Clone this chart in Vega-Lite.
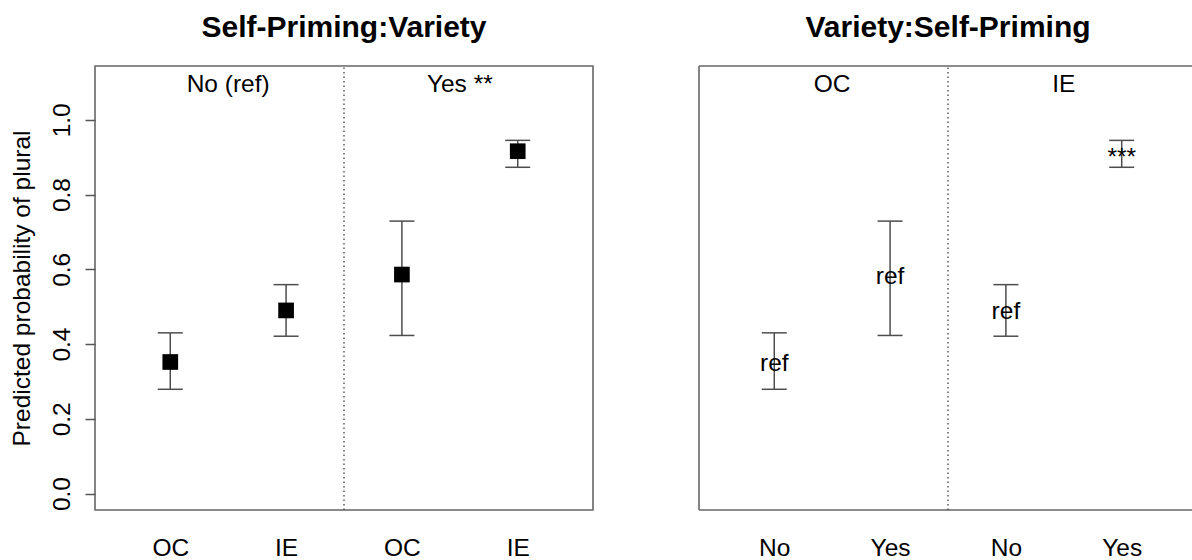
{
  "$schema": "https://vega.github.io/schema/vega-lite/v6.json",
  "background": "white",
  "padding": {"left": 8, "top": 12, "right": 0, "bottom": 0},
  "bounds": "flush",
  "spacing": 106,
  "datasets": {
    "estimates": [
      {"variety": "OC", "priming": "No", "fit": 0.352, "lo": 0.279, "hi": 0.430, "posA": 1, "posB": 1, "sig": "ref"},
      {"variety": "IE", "priming": "No", "fit": 0.490, "lo": 0.421, "hi": 0.559, "posA": 2, "posB": 3, "sig": "ref"},
      {"variety": "OC", "priming": "Yes", "fit": 0.586, "lo": 0.423, "hi": 0.729, "posA": 3, "posB": 2, "sig": "ref"},
      {"variety": "IE", "priming": "Yes", "fit": 0.916, "lo": 0.873, "hi": 0.945, "posA": 4, "posB": 4, "sig": "***"}
    ],
    "headersA": [{"slot": 1.5, "level": "No (ref)"}, {"slot": 3.5, "level": "Yes **"}],
    "headersB": [{"slot": 1.5, "level": "OC"}, {"slot": 3.5, "level": "IE"}],
    "dividers": [{"slot": 2.5}]
  },
  "config": {
    "font": "Liberation Sans",
    "view": {"stroke": null},
    "axis": {
      "grid": false,
      "domain": false,
      "labelFont": "Liberation Sans",
      "labelFontSize": 24.5,
      "labelColor": "#000000",
      "titleFont": "Liberation Sans",
      "titleFontSize": 24.5,
      "titleFontWeight": "normal",
      "titleColor": "#000000"
    },
    "title": {
      "font": "Liberation Sans",
      "fontSize": 30,
      "fontWeight": "bold",
      "color": "#000000",
      "anchor": "middle",
      "baseline": "alphabetic",
      "offset": 22,
      "frame": "group"
    },
    "text": {"font": "Liberation Sans", "fontSize": 24.5, "color": "#000000"}
  },
  "hconcat": [
    {
      "width": 498,
      "height": 444,
      "title": {"text": "Self-Priming:Variety"},
      "view": {"stroke": "#666666", "strokeWidth": 1.6},
      "layer": [
        {
          "data": {"name": "dividers"},
          "mark": {"type": "rule", "color": "#333333", "strokeWidth": 1.2, "strokeDash": [1.5, 3]},
          "encoding": {
            "x": {"field": "slot", "type": "quantitative", "scale": {"domain": [0.35, 4.65], "nice": false, "zero": false},
              "axis": {"values": [1, 2, 3, 4], "labelExpr": "['OC','IE','OC','IE'][datum.value-1]", "ticks": false, "tickSize": 0, "labelPadding": 45, "labelBaseline": "alphabetic", "labelFlush": false, "labelAngle": 0, "title": null}},
            "y": {"datum": -0.044, "type": "quantitative", "scale": {"domain": [-0.044, 1.144], "nice": false, "zero": false},
              "axis": {"values": [0, 0.2, 0.4, 0.6, 0.8, 1.0], "format": ".1f", "labelAngle": -90, "labelAlign": "center", "labelBaseline": "alphabetic", "labelPadding": 16, "tickSize": 10, "tickColor": "#555555", "tickWidth": 1.5, "labelFlush": false,
                "title": "Predicted probability of plural", "titleX": -66, "titleY": 222, "titleBaseline": "alphabetic", "titleAngle": -90, "titleAlign": "center"}},
            "y2": {"datum": 1.144}
          }
        },
        {
          "data": {"name": "estimates"},
          "mark": {"type": "rule", "color": "#4d4d4d", "strokeWidth": 1.5},
          "encoding": {
            "x": {"field": "posA", "type": "quantitative", "scale": {"domain": [0.35, 4.65], "nice": false, "zero": false}},
            "y": {"field": "lo", "type": "quantitative", "scale": {"domain": [-0.044, 1.144], "nice": false, "zero": false}},
            "y2": {"field": "hi"}
          }
        },
        {
          "data": {"name": "estimates"},
          "mark": {"type": "rule", "color": "#4d4d4d", "strokeWidth": 1.5, "xOffset": -12.5, "x2Offset": 12.5},
          "encoding": {
            "x": {"field": "posA", "type": "quantitative", "scale": {"domain": [0.35, 4.65], "nice": false, "zero": false}},
            "x2": {"field": "posA"},
            "y": {"field": "lo", "type": "quantitative", "scale": {"domain": [-0.044, 1.144], "nice": false, "zero": false}}
          }
        },
        {
          "data": {"name": "estimates"},
          "mark": {"type": "rule", "color": "#4d4d4d", "strokeWidth": 1.5, "xOffset": -12.5, "x2Offset": 12.5},
          "encoding": {
            "x": {"field": "posA", "type": "quantitative", "scale": {"domain": [0.35, 4.65], "nice": false, "zero": false}},
            "x2": {"field": "posA"},
            "y": {"field": "hi", "type": "quantitative", "scale": {"domain": [-0.044, 1.144], "nice": false, "zero": false}}
          }
        },
        {
          "data": {"name": "estimates"},
          "mark": {"type": "point", "shape": "square", "filled": true, "size": 246, "color": "#000000", "opacity": 1},
          "encoding": {
            "x": {"field": "posA", "type": "quantitative", "scale": {"domain": [0.35, 4.65], "nice": false, "zero": false}},
            "y": {"field": "fit", "type": "quantitative", "scale": {"domain": [-0.044, 1.144], "nice": false, "zero": false}}
          }
        },
        {
          "data": {"name": "headersA"},
          "mark": {"type": "text", "baseline": "alphabetic", "align": "center", "dy": 10},
          "encoding": {
            "x": {"field": "slot", "type": "quantitative", "scale": {"domain": [0.35, 4.65], "nice": false, "zero": false}},
            "y": {"datum": 1.1, "type": "quantitative", "scale": {"domain": [-0.044, 1.144], "nice": false, "zero": false}},
            "text": {"field": "level"}
          }
        }
      ]
    },
    {
      "width": 493,
      "height": 444,
      "title": {"text": "Variety:Self-Priming", "dx": 2.5},
      "layer": [
        {
          "data": {"values": [{}]},
          "mark": {"type": "rule", "color": "#666666", "strokeWidth": 1.6},
          "encoding": {
            "x": {"datum": 0.35, "type": "quantitative", "scale": {"domain": [0.35, 4.607], "nice": false, "zero": false},
              "axis": {"values": [1, 2, 3, 4], "labelExpr": "['No','Yes','No','Yes'][datum.value-1]", "ticks": false, "tickSize": 0, "labelPadding": 45, "labelBaseline": "alphabetic", "labelFlush": false, "labelAngle": 0, "title": null}},
            "x2": {"datum": 4.607},
            "y": {"datum": 1.144, "type": "quantitative", "scale": {"domain": [-0.044, 1.144], "nice": false, "zero": false}, "axis": null}
          }
        },
        {
          "data": {"values": [{}]},
          "mark": {"type": "rule", "color": "#666666", "strokeWidth": 1.6},
          "encoding": {
            "x": {"datum": 0.35, "type": "quantitative", "scale": {"domain": [0.35, 4.607], "nice": false, "zero": false}},
            "x2": {"datum": 4.607},
            "y": {"datum": -0.044, "type": "quantitative", "scale": {"domain": [-0.044, 1.144], "nice": false, "zero": false}}
          }
        },
        {
          "data": {"values": [{}]},
          "mark": {"type": "rule", "color": "#666666", "strokeWidth": 1.6},
          "encoding": {
            "x": {"datum": 0.35, "type": "quantitative", "scale": {"domain": [0.35, 4.607], "nice": false, "zero": false}},
            "y": {"datum": -0.044, "type": "quantitative", "scale": {"domain": [-0.044, 1.144], "nice": false, "zero": false}},
            "y2": {"datum": 1.144}
          }
        },
        {
          "data": {"name": "dividers"},
          "mark": {"type": "rule", "color": "#333333", "strokeWidth": 1.2, "strokeDash": [1.5, 3]},
          "encoding": {
            "x": {"field": "slot", "type": "quantitative", "scale": {"domain": [0.35, 4.607], "nice": false, "zero": false}},
            "y": {"datum": -0.044, "type": "quantitative", "scale": {"domain": [-0.044, 1.144], "nice": false, "zero": false}},
            "y2": {"datum": 1.144}
          }
        },
        {
          "data": {"name": "estimates"},
          "mark": {"type": "rule", "color": "#4d4d4d", "strokeWidth": 1.5},
          "encoding": {
            "x": {"field": "posB", "type": "quantitative", "scale": {"domain": [0.35, 4.607], "nice": false, "zero": false}},
            "y": {"field": "lo", "type": "quantitative", "scale": {"domain": [-0.044, 1.144], "nice": false, "zero": false}},
            "y2": {"field": "hi"}
          }
        },
        {
          "data": {"name": "estimates"},
          "mark": {"type": "rule", "color": "#4d4d4d", "strokeWidth": 1.5, "xOffset": -12.5, "x2Offset": 12.5},
          "encoding": {
            "x": {"field": "posB", "type": "quantitative", "scale": {"domain": [0.35, 4.607], "nice": false, "zero": false}},
            "x2": {"field": "posB"},
            "y": {"field": "lo", "type": "quantitative", "scale": {"domain": [-0.044, 1.144], "nice": false, "zero": false}}
          }
        },
        {
          "data": {"name": "estimates"},
          "mark": {"type": "rule", "color": "#4d4d4d", "strokeWidth": 1.5, "xOffset": -12.5, "x2Offset": 12.5},
          "encoding": {
            "x": {"field": "posB", "type": "quantitative", "scale": {"domain": [0.35, 4.607], "nice": false, "zero": false}},
            "x2": {"field": "posB"},
            "y": {"field": "hi", "type": "quantitative", "scale": {"domain": [-0.044, 1.144], "nice": false, "zero": false}}
          }
        },
        {
          "data": {"name": "estimates"},
          "transform": [{"filter": "datum.sig === 'ref'"}],
          "mark": {"type": "text", "baseline": "alphabetic", "align": "center", "dy": 9},
          "encoding": {
            "x": {"field": "posB", "type": "quantitative", "scale": {"domain": [0.35, 4.607], "nice": false, "zero": false}},
            "y": {"field": "fit", "type": "quantitative", "scale": {"domain": [-0.044, 1.144], "nice": false, "zero": false}},
            "text": {"field": "sig"}
          }
        },
        {
          "data": {"name": "estimates"},
          "transform": [{"filter": "datum.sig !== 'ref'"}],
          "mark": {"type": "text", "baseline": "alphabetic", "align": "center", "dy": 14},
          "encoding": {
            "x": {"field": "posB", "type": "quantitative", "scale": {"domain": [0.35, 4.607], "nice": false, "zero": false}},
            "y": {"field": "fit", "type": "quantitative", "scale": {"domain": [-0.044, 1.144], "nice": false, "zero": false}},
            "text": {"field": "sig"}
          }
        },
        {
          "data": {"name": "headersB"},
          "mark": {"type": "text", "baseline": "alphabetic", "align": "center", "dy": 10},
          "encoding": {
            "x": {"field": "slot", "type": "quantitative", "scale": {"domain": [0.35, 4.607], "nice": false, "zero": false}},
            "y": {"datum": 1.1, "type": "quantitative", "scale": {"domain": [-0.044, 1.144], "nice": false, "zero": false}},
            "text": {"field": "level"}
          }
        }
      ]
    }
  ]
}
